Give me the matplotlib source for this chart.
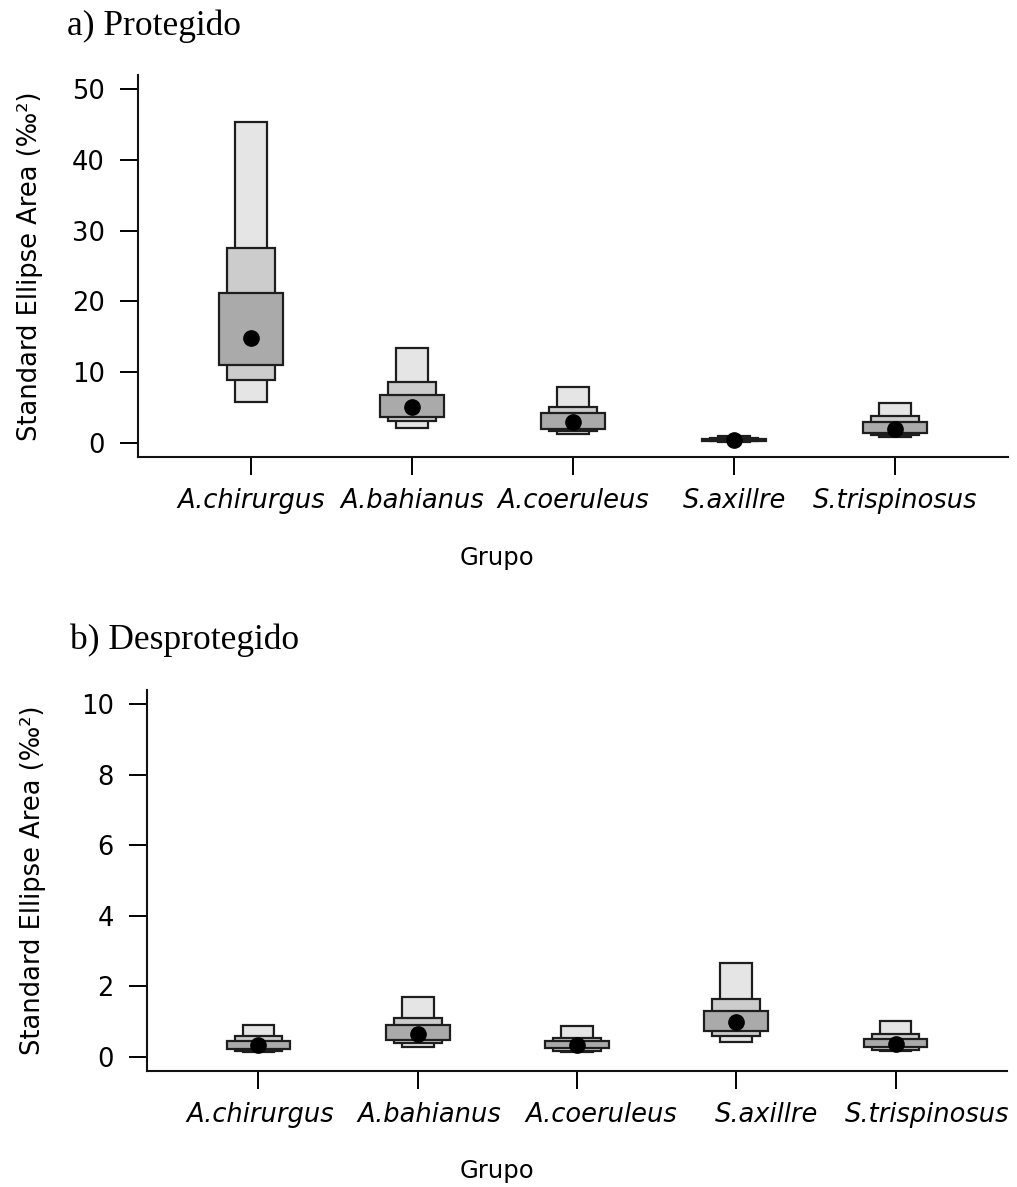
import numpy as np
import matplotlib
matplotlib.use("Agg")
import matplotlib.pyplot as plt
import matplotlib.transforms as mtransforms

plt.rcParams['font.family'] = ['DejaVu Sans']

groups = ["A.chirurgus", "A.bahianus", "A.coeruleus", "S.axillre", "S.trispinosus"]

# a) Protegido - credible intervals of SEA (95, 75, 50 %) and mode
mode_a = [14.8, 5.0, 3.0, 0.4, 2.0]
lo95_a = [5.8, 2.1, 1.3, 0.15, 0.85]
hi95_a = [45.4, 13.4, 7.9, 1.0, 5.7]
lo75_a = [8.9, 3.1, 1.7, 0.22, 1.1]
hi75_a = [27.5, 8.6, 5.1, 0.7, 3.8]
lo50_a = [11.0, 3.7, 2.0, 0.3, 1.4]
hi50_a = [21.2, 6.8, 4.2, 0.55, 2.9]

# b) Desprotegido
mode_b = [0.33, 0.66, 0.35, 1.0, 0.36]
lo95_b = [0.14, 0.28, 0.14, 0.41, 0.16]
hi95_b = [0.90, 1.71, 0.88, 2.66, 1.01]
lo75_b = [0.17, 0.40, 0.17, 0.59, 0.19]
hi75_b = [0.59, 1.11, 0.54, 1.64, 0.64]
lo50_b = [0.22, 0.47, 0.24, 0.73, 0.27]
hi50_b = [0.46, 0.90, 0.45, 1.31, 0.50]

clr = ["#e5e5e5", "#cccccc", "#aaaaaa"]
bwd = [0.2, 0.3, 0.4]
ecol = "#1e1e1e"

fig = plt.figure(figsize=(10.17, 11.87), dpi=100)
ax1 = fig.add_axes([138/1017, 1-457/1187, 870/1017, 382/1187])
ax2 = fig.add_axes([147/1017, 1-1071/1187, 860/1017, 381/1187])


def siber_plot(ax, mode, lo95, hi95, lo75, hi75, lo50, hi50, ymax, ystep):
    x = np.arange(1, len(groups)+1)
    lo = [np.array(lo95), np.array(lo75), np.array(lo50)]
    hi = [np.array(hi95), np.array(hi75), np.array(hi50)]
    for k in range(3):
        ax.bar(x, hi[k]-lo[k], bottom=lo[k], width=bwd[k], color=clr[k],
               edgecolor=ecol, linewidth=1.6, zorder=2+k)
    ax.plot(x, mode, 'o', color='black', markersize=11, zorder=6)
    ax.set_xlim(0.3, 5.7)
    ax.set_ylim(-0.04*ymax, 1.04*ymax)
    ax.set_yticks(np.arange(0, ymax+ystep/2, ystep))
    ax.set_xticks(x)
    ax.set_xticklabels(groups, fontstyle='italic', fontsize=18.5)
    ax.tick_params(axis='y', labelsize=18.5, length=13, width=1.4, pad=11, colors='black')
    ax.tick_params(axis='x', length=13, width=1.4, pad=9, colors='black')
    for s in ['top', 'right']:
        ax.spines[s].set_visible(False)
    for s in ['left', 'bottom']:
        ax.spines[s].set_linewidth(1.5)
        ax.spines[s].set_color('#111111')
    ax.set_ylabel("Standard Ellipse Area (‰²)", fontsize=18.5, va='center')
    ax.set_xlabel("Grupo", fontsize=17.5)


siber_plot(ax1, mode_a, lo95_a, hi95_a, lo75_a, hi75_a, lo50_a, hi50_a, 50, 10)
siber_plot(ax2, mode_b, lo95_b, hi95_b, lo75_b, hi75_b, lo50_b, hi50_b, 10, 2)

ax1.yaxis.set_label_coords(-0.124, 0.5)
ax2.yaxis.set_label_coords(-0.132, 0.5)
ax1.xaxis.set_label_coords(0.413, -0.233)
ax2.xaxis.set_label_coords(0.407, -0.23)

# lower panel tick labels sit a bit to the right of their ticks
shift_px = [2, 12, 24, 30, 32]
for lab, dx in zip(ax2.get_xticklabels(), shift_px):
    lab.set_transform(lab.get_transform() + mtransforms.ScaledTranslation(dx/100, 0, fig.dpi_scale_trans))

fig.text(67/1017, 1-35/1187, "a) Protegido", family='Liberation Serif', fontsize=25.5, va='baseline')
fig.text(70/1017, 1-649/1187, "b) Desprotegido", family='Liberation Serif', fontsize=25.5, va='baseline')

plt.savefig('out.png', dpi=100)
